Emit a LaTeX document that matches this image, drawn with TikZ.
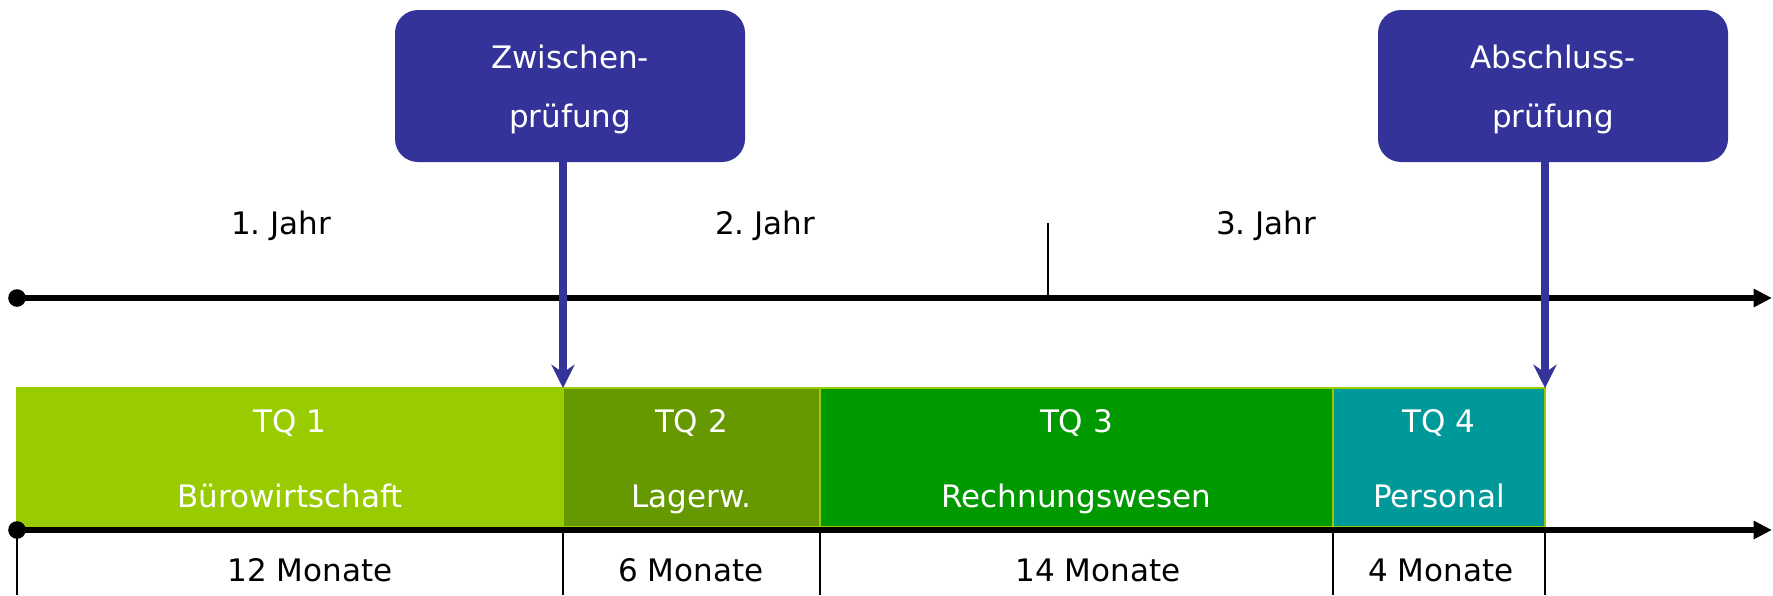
\documentclass[tikz,border=0pt]{standalone}
\usepackage{fontspec}
\setmainfont{DejaVu Sans}
\usetikzlibrary{arrows.meta,positioning}

\definecolor{tqone}{HTML}{99CC00}
\definecolor{tqtwo}{HTML}{669900}
\definecolor{tqthree}{HTML}{009900}
\definecolor{tqfour}{HTML}{009999}
\definecolor{examblue}{HTML}{333399}

% struts that fix the two text lines in the bars and in the exam boxes
\newcommand{\barstrut}{\rule[-10pt]{0pt}{32pt}}
\newcommand{\examstrut}{\rule[-9pt]{0pt}{29.5pt}}

\begin{document}
\frenchspacing
\begin{tikzpicture}[x=0.5pt,y=0.5pt,yscale=-1,xscale=1,
		font=\fontsize{15.5}{19}\selectfont,
		axis/.style={line width=3.3pt, -{Triangle[length=9.2pt,width=8.7pt]}},
		tick/.style={line width=0.65pt},
		bar/.style={draw=tqone, line width=0.6pt, text=white, align=center, inner sep=0pt, outer sep=0pt,
			minimum height=69.5pt, anchor=south west, font=\fontsize{15.5}{37.5}\selectfont},
		exam/.style={fill=examblue, rounded corners=11.5pt, text=white, align=center, inner sep=0pt,
			minimum width=175pt, minimum height=76pt, font=\fontsize{15.5}{29.5}\selectfont},
		examarrow/.style={draw=examblue, line width=4.1pt, -{Stealth[length=11.7pt,width=11.7pt,inset=4pt]}}]
		\useasboundingbox (0,0) rectangle (1773,595);

		% The exam boxes on top
		\node[exam] (zp) at (570,86) {\examstrut Zwischen-\\\examstrut prüfung};
		\node[exam] (ap) at (1553,86) {\examstrut Abschluss-\\\examstrut prüfung};

		% The bars of the four parts, one after the other
		\node[bar, fill=tqone, minimum width=273pt] (tq1) at (17,527) {\barstrut TQ 1\\\barstrut Bürowirtschaft};
		\node[bar, fill=tqtwo, minimum width=128.5pt] (tq2) at (tq1.south east) {\barstrut TQ 2\\\barstrut Lagerw.};
		\node[bar, fill=tqthree, minimum width=256.5pt] (tq3) at (tq2.south east) {\barstrut TQ 3\\\barstrut Rechnungswesen};
		\node[bar, fill=tqfour, minimum width=106pt] (tq4) at (tq3.south east) {\barstrut TQ 4\\\barstrut Personal};

		% The year axis
		\coordinate (yearstart) at (17,298);
		\coordinate (yearend) at (1772,298);
		\coordinate (yeartick) at (1048,298);
		\draw[axis] (yearstart) -- (yearend);
		\fill (yearstart) circle (4.4pt);
		\draw[tick] (yeartick) -- ++(0,-75);

		% The year labels
		\node[anchor=base] (j1) at (281,234) {1. Jahr};
		\node[anchor=base] (j2) at (765,234) {2. Jahr};
		\node[anchor=base] (j3) at (1266,234) {3. Jahr};

		% The month axis below the bars
		\coordinate (monthstart) at (17,530);
		\coordinate (monthend) at (1772,530);
		\coordinate (pagebottom) at (0,595);
		\foreach \b in {tq1.south west,tq2.south west,tq3.south west,tq4.south west,tq4.south east}
			\draw[tick] (\b) -- (\b |- pagebottom);
		\draw[axis] (monthstart) -- (monthend);
		\fill (monthstart) circle (4.4pt);

		% The month labels
		\node[anchor=base] (m1) at (310,581) {12 Monate};
		\node[anchor=base] (m2) at (691,581) {6 Monate};
		\node[anchor=base] (m3) at (1098,581) {14 Monate};
		\node[anchor=base] (m4) at (1441,581) {4 Monate};

		% The arrows from the exams down to the bars
		\draw[examarrow] (zp.south -| tq2.north west) -- (tq2.north west);
		\draw[examarrow] (ap.south -| tq4.north east) -- (tq4.north east);
	\end{tikzpicture}
\end{document}
